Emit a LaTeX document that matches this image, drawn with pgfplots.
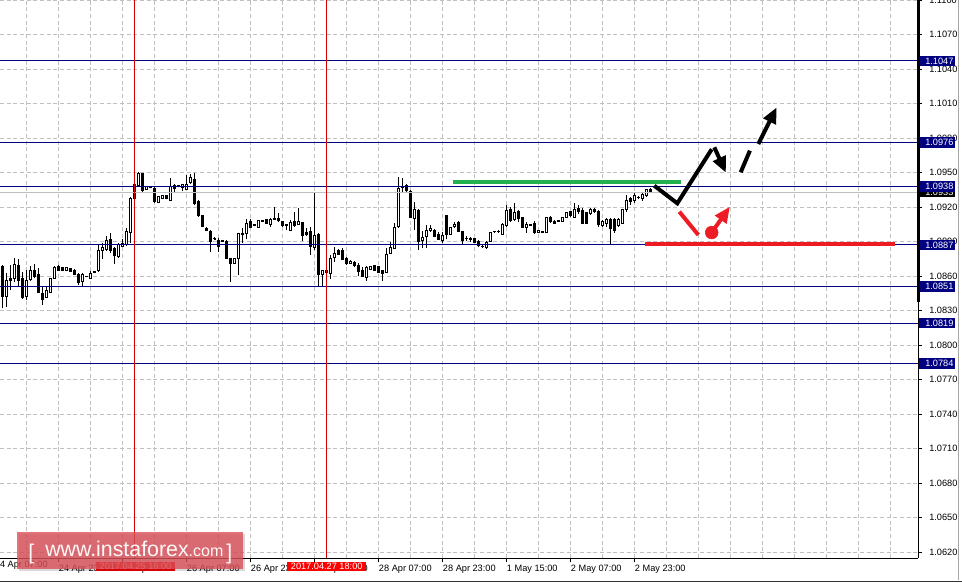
\documentclass[border=0pt]{standalone}
\usepackage{fontspec}
\setmainfont{Liberation Sans}
\usepackage{pgfplots}
\usepackage{pgfplotstable}
\pgfplotsset{compat=1.18}
\usetikzlibrary{arrows.meta}
\definecolor{navy}{RGB}{0,0,128}
\definecolor{gridgray}{RGB}{192,192,192}
\definecolor{mtred}{RGB}{237,28,36}
\definecolor{mtgreen}{RGB}{34,177,76}
\definecolor{wmred}{RGB}{218,80,88}
\definecolor{vred}{RGB}{210,0,0}

\pgfplotstableread{
i O H L C
0 1.08681 1.08696 1.08319 1.08420
1 1.08426 1.08623 1.08333 1.08559
2 1.08577 1.08696 1.08478 1.08565
3 1.08580 1.08759 1.08551 1.08701
4 1.08693 1.08751 1.08507 1.08565
5 1.08580 1.08638 1.08397 1.08414
6 1.08420 1.08652 1.08391 1.08565
7 1.08571 1.08687 1.08559 1.08649
8 1.08644 1.08701 1.08580 1.08594
9 1.08614 1.08672 1.08449 1.08455
10 1.08449 1.08513 1.08345 1.08397
11 1.08414 1.08501 1.08409 1.08478
12 1.08458 1.08585 1.08449 1.08574
13 1.08580 1.08687 1.08574 1.08675
14 1.08684 1.08693 1.08647 1.08652
15 1.08675 1.08681 1.08641 1.08647
16 1.08647 1.08681 1.08641 1.08675
17 1.08664 1.08672 1.08635 1.08641
18 1.08649 1.08658 1.08611 1.08617
19 1.08614 1.08623 1.08522 1.08542
20 1.08556 1.08623 1.08513 1.08614
21 1.08597 1.08603 1.08588 1.08594
22 1.08580 1.08641 1.08571 1.08623
23 1.08638 1.08647 1.08623 1.08629
24 1.08644 1.08870 1.08638 1.08818
25 1.08821 1.08884 1.08745 1.08849
26 1.08832 1.08948 1.08821 1.08913
27 1.08919 1.08977 1.08797 1.08821
28 1.08838 1.08849 1.08704 1.08774
29 1.08768 1.08884 1.08759 1.08872
30 1.08855 1.08919 1.08849 1.08884
31 1.08870 1.09015 1.08861 1.08985
32 1.08980 1.09290 1.08890 1.09275
33 1.09275 1.09406 1.09267 1.09397
34 1.09386 1.09505 1.09377 1.09493
35 1.09493 1.09499 1.09334 1.09342
36 1.09354 1.09386 1.09348 1.09377
37 1.09374 1.09386 1.09362 1.09371
38 1.09362 1.09371 1.09238 1.09244
39 1.09238 1.09296 1.09232 1.09290
40 1.09275 1.09304 1.09267 1.09296
41 1.09296 1.09304 1.09267 1.09275
42 1.09255 1.09450 1.09252 1.09377
43 1.09386 1.09400 1.09331 1.09362
44 1.09383 1.09392 1.09371 1.09380
45 1.09371 1.09400 1.09336 1.09392
46 1.09354 1.09478 1.09348 1.09400
47 1.09412 1.09487 1.09400 1.09458
48 1.09441 1.09499 1.09218 1.09232
49 1.09247 1.09261 1.09116 1.09122
50 1.09122 1.09131 1.09029 1.09029
51 1.09015 1.09029 1.08988 1.08994
52 1.08991 1.09000 1.08812 1.08904
53 1.08925 1.08936 1.08913 1.08922
54 1.08913 1.08928 1.08812 1.08855
55 1.08907 1.08913 1.08896 1.08904
56 1.08904 1.08913 1.08751 1.08751
57 1.08748 1.08754 1.08551 1.08710
58 1.08710 1.08751 1.08704 1.08748
59 1.08748 1.08977 1.08609 1.08971
60 1.08968 1.09015 1.08884 1.08965
61 1.08971 1.09099 1.08919 1.09058
62 1.09078 1.09093 1.09015 1.09020
63 1.09044 1.09050 1.09032 1.09041
64 1.09023 1.09087 1.09017 1.09081
65 1.09081 1.09087 1.09070 1.09078
66 1.09087 1.09093 1.09052 1.09058
67 1.09049 1.09102 1.09029 1.09093
68 1.09102 1.09197 1.09087 1.09093
69 1.09102 1.09151 1.09073 1.09081
70 1.09078 1.09081 1.09029 1.09038
71 1.09044 1.09052 1.09000 1.09041
72 1.08994 1.09087 1.08988 1.09064
73 1.09078 1.09160 1.09029 1.09041
74 1.09052 1.09189 1.09044 1.09078
75 1.09064 1.09073 1.08907 1.08951
76 1.08977 1.09015 1.08948 1.08962
77 1.08985 1.09029 1.08783 1.08855
78 1.08849 1.09319 1.08826 1.08951
79 1.08965 1.08971 1.08513 1.08617
80 1.08614 1.08652 1.08513 1.08644
81 1.08652 1.08658 1.08609 1.08632
82 1.08623 1.08783 1.08571 1.08754
83 1.08759 1.08855 1.08725 1.08797
84 1.08821 1.08832 1.08783 1.08791
85 1.08818 1.08841 1.08739 1.08745
86 1.08754 1.08762 1.08696 1.08710
87 1.08710 1.08739 1.08704 1.08730
88 1.08719 1.08730 1.08681 1.08687
89 1.08687 1.08710 1.08600 1.08638
90 1.08652 1.08681 1.08588 1.08594
91 1.08588 1.08687 1.08559 1.08675
92 1.08658 1.08687 1.08652 1.08681
93 1.08687 1.08693 1.08647 1.08652
94 1.08681 1.08687 1.08623 1.08632
95 1.08644 1.08652 1.08559 1.08623
96 1.08632 1.08841 1.08629 1.08788
97 1.08797 1.08893 1.08791 1.08849
98 1.08838 1.09058 1.08832 1.09023
99 1.09029 1.09458 1.09020 1.09362
100 1.09368 1.09450 1.09319 1.09377
101 1.09383 1.09400 1.09334 1.09342
102 1.09334 1.09348 1.09102 1.09111
103 1.09102 1.09247 1.09000 1.09174
104 1.09166 1.09180 1.08826 1.08899
105 1.08907 1.08994 1.08841 1.08933
106 1.08942 1.09044 1.08841 1.09000
107 1.08994 1.09044 1.08985 1.09015
108 1.09000 1.09006 1.08936 1.08942
109 1.08957 1.08985 1.08913 1.08919
110 1.08907 1.08985 1.08884 1.08948
111 1.09122 1.09131 1.08919 1.08965
112 1.08965 1.09029 1.08957 1.09023
113 1.09029 1.09073 1.09015 1.09052
114 1.09064 1.09081 1.08985 1.08988
115 1.08985 1.08994 1.08878 1.08913
116 1.08930 1.08948 1.08907 1.08928
117 1.08922 1.08936 1.08899 1.08919
118 1.08928 1.08933 1.08887 1.08893
119 1.08899 1.08913 1.08849 1.08861
120 1.08858 1.08870 1.08841 1.08855
121 1.08849 1.08901 1.08832 1.08893
122 1.08899 1.08985 1.08899 1.08980
123 1.08988 1.08994 1.08977 1.08985
124 1.08985 1.09000 1.08977 1.08988
125 1.08965 1.09058 1.08959 1.09044
126 1.09038 1.09218 1.09029 1.09168
127 1.09174 1.09203 1.09073 1.09081
128 1.09087 1.09232 1.09081 1.09151
129 1.09160 1.09174 1.09073 1.09102
130 1.09111 1.09116 1.09015 1.09023
131 1.09023 1.09073 1.08977 1.09044
132 1.09044 1.09052 1.09035 1.09041
133 1.09058 1.09081 1.08965 1.08977
134 1.08977 1.09000 1.08971 1.08994
135 1.08983 1.08991 1.08974 1.08980
136 1.08977 1.09116 1.08977 1.09108
137 1.09111 1.09122 1.09064 1.09073
138 1.09078 1.09087 1.09052 1.09058
139 1.09081 1.09087 1.09070 1.09078
140 1.09078 1.09116 1.09070 1.09108
141 1.09111 1.09160 1.09102 1.09151
142 1.09160 1.09168 1.09116 1.09122
143 1.09111 1.09238 1.09108 1.09180
144 1.09189 1.09218 1.09139 1.09160
145 1.09168 1.09189 1.09052 1.09058
146 1.09151 1.09160 1.09052 1.09058
147 1.09145 1.09189 1.09131 1.09174
148 1.09180 1.09189 1.09151 1.09160
149 1.09160 1.09174 1.09029 1.09044
150 1.09038 1.09087 1.09029 1.09078
151 1.09058 1.09102 1.09029 1.09093
152 1.09093 1.09102 1.08878 1.09015
153 1.09093 1.09102 1.08977 1.08994
154 1.09035 1.09102 1.09029 1.09093
155 1.09058 1.09183 1.09052 1.09174
156 1.09174 1.09304 1.09160 1.09255
157 1.09275 1.09290 1.09218 1.09247
158 1.09255 1.09319 1.09238 1.09296
159 1.09284 1.09296 1.09267 1.09281
160 1.09275 1.09319 1.09255 1.09310
161 1.09304 1.09354 1.09284 1.09348
162 1.09354 1.09362 1.09319 1.09325
}\candles

\pgfplotstablegetrowsof{\candles}
\pgfmathtruncatemacro\nlast{\pgfplotsretval-1}

\tikzset{
  pbox/.style={anchor=west, inner sep=0pt, minimum height=7.8pt, font=\fontsize{6.9}{8}\selectfont},
}

\begin{document}
\begin{tikzpicture}
\useasboundingbox (0pt,0pt) rectangle (721.5pt,-436.5pt);
\begin{axis}[
  at={(0pt,0pt)}, anchor=north west,
  scale only axis, width=688.5pt, height=418.5pt,
  xmin=-0.675, xmax=228.825, ymin=1.061478, ymax=1.11,
  axis x line*=bottom, axis y line*=right,
  axis line style={-, black, line width=0.75pt},
  xtick pos=bottom, ytick pos=right, yticklabel pos=right,
  tick align=outside, major tick length=3pt,
  tick style={black, line width=0.75pt},
  xtick={14,30,46,62,78,94,110,126,142,158},
  xticklabels={24 Apr 23:00,25 Apr 15:00,26 Apr 07:00,26 Apr 23:00,27 Apr 15:00,28 Apr 07:00,28 Apr 23:00,1 May 15:00,2 May 07:00,2 May 23:00},
  extra x ticks={6,22,38,54,70,86,102,118,134,150,166,174,182,190,198,206,214,222},
  extra x tick labels={},
  extra x tick style={major tick length=0pt, grid=major},
  ytick={1.0620,1.0650,1.0680,1.0710,1.0740,1.0770,1.0800,1.0830,1.0860,1.0890,1.0920,1.0950,1.0980,1.1010,1.1040,1.1070,1.1100},
  yticklabel={\pgfmathprintnumber[fixed,fixed zerofill,precision=4]{\tick}},
  /pgf/number format/assume math mode=true,
  xmajorgrids, ymajorgrids,
  major grid style={gridgray, dash pattern=on 3pt off 2pt, line width=0.75pt},
  ticklabel style={font=\fontsize{6.9}{8}\selectfont, text=black},
  xticklabel style={anchor=north west, inner sep=0pt, yshift=-2pt},
  yticklabel style={anchor=west, inner sep=0pt, xshift=5.25pt},
]
% candles
\pgfplotsinvokeforeach{0,...,\nlast}{%
  \pgfplotstablegetelem{#1}{i}\of\candles\let\ci\pgfplotsretval
  \pgfplotstablegetelem{#1}{O}\of\candles\let\cO\pgfplotsretval
  \pgfplotstablegetelem{#1}{H}\of\candles\let\cH\pgfplotsretval
  \pgfplotstablegetelem{#1}{L}\of\candles\let\cL\pgfplotsretval
  \pgfplotstablegetelem{#1}{C}\of\candles\let\cC\pgfplotsretval
  \pgfmathsetmacro\xa{\ci-0.25}\pgfmathsetmacro\xb{\ci+0.25}%
  \ifdim\cC pt<\cO pt \def\cf{black}\else\def\cf{white}\fi
  \edef\doit{\noexpand\addplot[black,line width=0.75pt] coordinates {(\ci,\cL) (\ci,\cH)};
    \noexpand\addplot[draw=black,fill=\cf,line width=0.75pt] coordinates {(\xa,\cO) (\xb,\cO) (\xb,\cC) (\xa,\cC)} -- cycle;}%
  \doit
}
% horizontal levels
\addplot[gridgray, line width=0.75pt] coordinates {(-0.675,1.0933) (228.825,1.0933)};
\addplot[navy, line width=0.75pt] coordinates {(-0.675,1.1047) (228.825,1.1047)};
\addplot[navy, line width=0.75pt] coordinates {(-0.675,1.0976) (228.825,1.0976)};
\addplot[navy, line width=0.75pt] coordinates {(-0.675,1.0938) (228.825,1.0938)};
\addplot[navy, line width=0.75pt] coordinates {(-0.675,1.0887) (228.825,1.0887)};
\addplot[navy, line width=0.75pt] coordinates {(-0.675,1.0851) (228.825,1.0851)};
\addplot[navy, line width=0.75pt] coordinates {(-0.675,1.0819) (228.825,1.0819)};
\addplot[navy, line width=0.75pt] coordinates {(-0.675,1.0784) (228.825,1.0784)};
% vertical red lines
\addplot[vred, line width=0.75pt] coordinates {(33,1.061478) (33,1.11)};
\addplot[vred, line width=0.75pt] coordinates {(81,1.061478) (81,1.11)};
% green and red levels
\addplot[mtgreen, line width=3pt] coordinates {(112.65,1.0942) (169.6,1.0942)};
\addplot[mtred, line width=3pt] coordinates {(160.6,1.0888) (223.0,1.0888)};
% black scenario
\addplot[black, line width=3pt] coordinates {(162.9,1.09385) (168.65,1.09232) (177.25,1.09702)};
\addplot[black, line width=3pt, -{Triangle[length=12pt,width=10pt]}] coordinates {(177.9,1.09719) (180.8,1.09498)};
\addplot[black, line width=3pt] coordinates {(184.5,1.09502) (186.8,1.09690)};
\addplot[black, line width=3pt, -{Triangle[length=12pt,width=10pt]}] coordinates {(188.9,1.09748) (193.5,1.10067)};
% red scenario
\addplot[mtred, line width=3pt] coordinates {(169.15,1.09159) (173.9,1.08957)};
\addplot[mtred, line width=3pt, -{Triangle[length=12pt,width=10pt]}] coordinates {(177.25,1.08978) (181.8,1.09203)};
\addplot[only marks, mark=*, mark size=4.8pt, mtred, mark options={draw=mtred, fill=mtred}] coordinates {(177.25,1.08978)};
% anchors for annotations
\coordinate (L1047) at (axis cs:228.825,1.1047);
\coordinate (L0976) at (axis cs:228.825,1.0976);
\coordinate (L0938) at (axis cs:228.825,1.0938);
\coordinate (L0933) at (axis cs:228.825,1.0933);
\coordinate (L0887) at (axis cs:228.825,1.0887);
\coordinate (L0851) at (axis cs:228.825,1.0851);
\coordinate (L0819) at (axis cs:228.825,1.0819);
\coordinate (L0784) at (axis cs:228.825,1.0784);
\coordinate (T0) at (axis cs:-2,1.061478);
\coordinate (R1) at (axis cs:33.2,1.061478);
\coordinate (R2) at (axis cs:81,1.061478);
\end{axis}

% first date label (left of visible range)
\node[anchor=north west, inner sep=0pt, yshift=-2pt, font=\fontsize{6.9}{8}\selectfont] at (T0) {24 Apr 07:00};
% red date boxes
\node[fill=red, text=white, inner sep=0pt, minimum width=59.25pt, minimum height=7pt, yshift=-6.6pt, font=\fontsize{6.9}{8}\selectfont] at (R1) {2017.04.25 18:00};
\node[fill=red, text=white, inner sep=0pt, minimum width=59.25pt, minimum height=7pt, yshift=-6.6pt, font=\fontsize{6.9}{8}\selectfont] at (R2) {2017.04.27 18:00};

% price boxes
\node[pbox, fill=black, text=white] at ([xshift=0.75pt]L0933) {\makebox[27pt][l]{\hspace{4.5pt}1.0933}};
\foreach \c/\t in {L1047/1.1047, L0976/1.0976, L0938/1.0938, L0887/1.0887, L0851/1.0851, L0819/1.0819, L0784/1.0784}{
  \node[pbox, fill=navy, text=white] at ([xshift=0.75pt]\c) {\makebox[27pt][l]{\hspace{4.5pt}\t}};
}

\begin{scope}[x=0.75pt, y=-0.75pt]
  % thick right bar
  \draw[black, line width=2.25pt] (918.5,0) -- (918.5,302);
  % window frame
  \draw[black!35, line width=0.75pt] (958,0) -- (958,580);
  \draw[black!80, line width=0.75pt] (0,581) -- (962,581);
  % watermark
  \fill[black, opacity=0.15] (19,534) rectangle (245,571);
  \fill[wmred, opacity=0.8] (17,532) rectangle (243,569);
  \node[anchor=base west, inner sep=0pt, text=white, opacity=0.95, font=\fontsize{16}{16}\selectfont] at (28,559) {[};
  \node[anchor=base west, inner sep=0pt, text=white, opacity=0.95, font=\fontsize{16}{16}\selectfont] at (45,556) {www.instaforex{\fontsize{12}{12}\selectfont.com}};
  \node[anchor=base west, inner sep=0pt, text=white, opacity=0.95, font=\fontsize{16}{16}\selectfont] at (226,559) {]};
\end{scope}
\end{tikzpicture}
\end{document}
